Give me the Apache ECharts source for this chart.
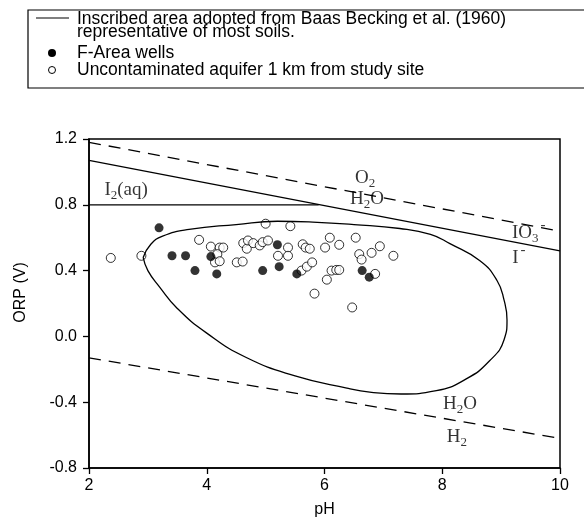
<!DOCTYPE html>
<html>
<head>
<meta charset="utf-8">
<script src="https://cdn.jsdelivr.net/npm/echarts@6/dist/echarts.min.js"></script>
<style>
  html, body { margin: 0; padding: 0; background: #fff; }
  #chart { width: 584px; height: 526px; }
</style>
</head>
<body>
<div id="chart"></div>
<script>
// axis ticks
var xTicks = [2, 4, 6, 8, 10];
var yTicks = [-0.8, -0.4, 0.0, 0.4, 0.8, 1.2];

// stability lines (pH, ORP)
var o2Line = [[2, 1.18], [10, 0.64]];
var iodateLine = [[2, 1.07], [10, 0.52]];
var iodineLine = [[2, 0.8], [5.9, 0.8]];
var h2Line = [[2, -0.13], [10, -0.62]];

// inscribed area (Baas Becking et al. 1960)
var envelopePH = [2.92, 3.05, 3.25, 3.7, 4.5, 5.2, 5.8, 6.5, 7.28, 7.8, 8.13, 8.64, 8.93, 9.05, 9.1, 9.05, 8.8, 8.4, 7.9, 7.3, 6.8, 6.38, 5.5, 4.68, 4.0, 3.5, 3.2, 3.0, 2.92];
var envelopeORP = [0.48, 0.56, 0.61, 0.65, 0.68, 0.70, 0.695, 0.68, 0.656, 0.62, 0.564, 0.46, 0.34, 0.22, 0.10, -0.02, -0.15, -0.26, -0.33, -0.35, -0.34, -0.315, -0.24, -0.13, 0.02, 0.17, 0.30, 0.40, 0.48];

// F-Area wells
var fAreaPH = [3.19, 3.41, 3.64, 3.80, 4.07, 4.17, 4.95, 5.20, 5.23, 5.53, 6.64, 6.76];
var fAreaORP = [0.66, 0.49, 0.49, 0.40, 0.485, 0.38, 0.40, 0.557, 0.424, 0.38, 0.40, 0.36];

// uncontaminated aquifer
var cleanPH = [2.37, 2.89, 3.87, 4.07, 4.22, 4.28, 4.18, 4.14, 4.22, 4.51, 4.61, 4.62, 4.68, 4.70, 4.79, 4.90, 4.95, 5.04, 5.00, 5.21, 5.38, 5.38, 5.42, 5.63, 5.68, 5.75, 5.61, 5.70, 5.79, 5.83, 6.01, 6.09, 6.04, 6.12, 6.20, 6.25, 6.25, 6.53, 6.59, 6.63, 6.80, 6.94, 7.17, 6.86, 6.47];
var cleanORP = [0.477, 0.49, 0.587, 0.546, 0.54, 0.54, 0.50, 0.45, 0.457, 0.45, 0.455, 0.567, 0.533, 0.583, 0.567, 0.553, 0.573, 0.583, 0.685, 0.49, 0.54, 0.49, 0.67, 0.56, 0.54, 0.533, 0.40, 0.424, 0.45, 0.26, 0.54, 0.60, 0.345, 0.40, 0.404, 0.557, 0.404, 0.60, 0.50, 0.467, 0.508, 0.548, 0.49, 0.38, 0.176];

// species labels
var labelPH = [2.63, 6.69, 6.72, 9.47, 9.3, 8.30, 8.25];
var labelORP = [0.89, 0.964, 0.836, 0.665, 0.515, -0.41, -0.61];
var labelText = ['{n|I}{s|2}{n|(aq)}', '{n|O}{s|2}', '{n|H}{s|2}{n|O}', '{m|IO}{t|3}{p|-}', '{m|I}{p|-}', '{n|H}{s|2}{n|O}', '{n|H}{s|2}'];

function zip(xs, ys) {
    return xs.map(function (x, i) { return [x, ys[i]]; });
}

var chart = echarts.init(document.getElementById('chart'), null, { renderer: 'canvas' });

var sans = '"Liberation Sans", Arial, sans-serif';
var serif = '"Liberation Serif", "Times New Roman", serif';

var lineStyleBase = { color: '#000', width: 1.3 };

var option = {
    animation: false,
    backgroundColor: '#fff',
    grid: {
        left: 89, right: 24, top: 139, bottom: 58,
        show: true, borderColor: '#000', borderWidth: 1.5
    },
    xAxis: {
        type: 'value', min: 2, max: 10, interval: 2,
        name: 'pH', nameLocation: 'middle', nameGap: 34,
        nameTextStyle: { color: '#000', fontSize: 16, fontFamily: sans },
        axisLine: { onZero: false, lineStyle: { color: '#000', width: 1.5 } },
        axisTick: { length: 6, lineStyle: { color: '#000', width: 1.3 } },
        axisLabel: { color: '#000', fontSize: 16, fontFamily: sans, margin: 10 },
        splitLine: { show: false }
    },
    yAxis: {
        type: 'value', min: -0.8, max: 1.2, interval: 0.4,
        name: 'ORP (V)', nameLocation: 'middle', nameGap: 60,
        nameTextStyle: { color: '#000', fontSize: 16, fontFamily: sans, padding: [0, 0, 0, 22] },
        axisLine: { onZero: false, lineStyle: { color: '#000', width: 1.5 } },
        axisTick: { length: 6, lineStyle: { color: '#000', width: 1.3 } },
        axisLabel: {
            color: '#000', fontSize: 16, fontFamily: sans, margin: 12,
            formatter: function (v) { return Math.abs(v) < 1e-9 ? '0.0' : v.toFixed(1); }
        },
        splitLine: { show: false }
    },
    graphic: [
        { type: 'rect', shape: { x: 28, y: 10, width: 600, height: 78 }, style: { fill: 'none', stroke: '#000', lineWidth: 1.2 } },
        { type: 'line', shape: { x1: 36, y1: 18, x2: 69, y2: 18 }, style: { stroke: '#000', lineWidth: 1.2 } },
        { type: 'text', x: 77, y: 13, style: { text: 'Inscribed area adopted from Baas Becking et al. (1960)\nrepresentative of most soils.', font: '17.5px ' + sans, lineHeight: 13, fill: '#000' } },
        { type: 'circle', shape: { cx: 52, cy: 53, r: 4 }, style: { fill: '#000' } },
        { type: 'text', x: 77, y: 53, style: { text: 'F-Area wells', font: '17.5px ' + sans, fill: '#000', verticalAlign: 'middle' } },
        { type: 'circle', shape: { cx: 52, cy: 70, r: 3.5 }, style: { fill: '#fff', stroke: '#000', lineWidth: 1 } },
        { type: 'text', x: 77, y: 70, style: { text: 'Uncontaminated aquifer 1 km from study site', font: '17.5px ' + sans, fill: '#000', verticalAlign: 'middle' } }
    ],
    series: [
        {
            type: 'line', data: o2Line, symbol: 'none',
            lineStyle: Object.assign({ type: [12, 8] }, lineStyleBase)
        },
        {
            type: 'line', data: iodateLine, symbol: 'none', lineStyle: lineStyleBase
        },
        {
            type: 'line', data: iodineLine, symbol: 'none', lineStyle: lineStyleBase
        },
        {
            type: 'line', data: h2Line, symbol: 'none',
            lineStyle: Object.assign({ type: [12, 8] }, lineStyleBase)
        },
        {
            type: 'line', data: zip(envelopePH, envelopeORP), symbol: 'none', smooth: 0.5,
            lineStyle: lineStyleBase
        },
        {
            type: 'scatter', data: zip(cleanPH, cleanORP), symbol: 'circle', symbolSize: 9,
            itemStyle: { color: '#fff', borderColor: '#000', borderWidth: 1 }
        },
        {
            type: 'scatter', data: zip(fAreaPH, fAreaORP), symbol: 'circle', symbolSize: 9,
            itemStyle: { color: '#000' }
        },
        {
            type: 'scatter', symbolSize: 0,
            data: labelPH.map(function (x, i) { return [x, labelORP[i], labelText[i]]; }),
            label: {
                show: true, position: 'inside', color: '#000',
                formatter: function (p) { return p.value[2]; },
                rich: {
                    n: { fontSize: 19, fontFamily: serif, lineHeight: 19, verticalAlign: 'top', color: '#000' },
                    s: { fontSize: 13, fontFamily: serif, lineHeight: 13, padding: [9, 0, 0, 0], verticalAlign: 'top', color: '#000' },
                    m: { fontSize: 19, fontFamily: serif, lineHeight: 19, padding: [6, 0, 0, 0], verticalAlign: 'top', color: '#000' },
                    t: { fontSize: 13, fontFamily: serif, lineHeight: 13, padding: [15, 0, 0, 0], verticalAlign: 'top', color: '#000' },
                    p: { fontSize: 15, fontFamily: serif, lineHeight: 10, padding: [0, 0, 0, 2], verticalAlign: 'top', color: '#000' }
                }
            }
        }
    ]
};

chart.setOption(option);
</script>
</body>
</html>
